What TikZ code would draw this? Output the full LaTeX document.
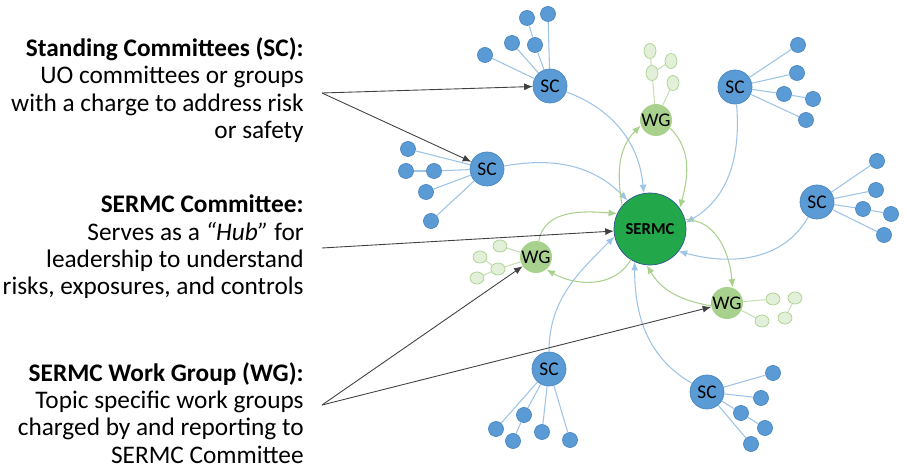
\documentclass[tikz,border=0pt]{standalone}
\usepackage{fontspec}
\setmainfont{Carlito}
\usetikzlibrary{shapes.geometric,arrows.meta}
\definecolor{scblue}{HTML}{5B9BD5}
\definecolor{scedge}{HTML}{4A86C0}
\definecolor{twigblue}{HTML}{9DC3E6}
\definecolor{wggreen}{HTML}{A9D18E}
\definecolor{wglight}{HTML}{E2F0D9}
\definecolor{wgedge}{HTML}{C5E0B4}
\definecolor{hubgreen}{HTML}{22A84A}
\definecolor{hubedge}{HTML}{2F5597}
\definecolor{pointer}{HTML}{404040}

\begin{document}
\begin{tikzpicture}[x=0.02cm, y=-0.02cm, >={Latex[length=1.7mm,width=1.4mm]},
  sc/.style={circle, draw=scedge, fill=scblue, minimum size=6.8mm, inner sep=0pt, font=\fontsize{11}{13}\selectfont},
  leaf/.style={circle, draw=scedge, fill=scblue, minimum size=3mm, inner sep=0pt},
  wg/.style={circle, fill=wggreen, minimum size=6.4mm, inner sep=0pt, font=\fontsize{11}{13}\selectfont},
  wgleaf/.style={ellipse, draw=wggreen, fill=wglight, minimum width=2.8mm, minimum height=2.4mm, inner sep=0pt},
  tallleaf/.style={wgleaf, minimum width=2.4mm, minimum height=3mm},
  hubnode/.style={circle, draw=hubedge, fill=hubgreen, minimum size=14.4mm, inner sep=0pt, font=\fontsize{9.5}{11}\selectfont\bfseries},
  txt/.style={anchor=east, align=right, inner sep=0pt, font=\fontsize{14.4}{15.6}\selectfont},
  twig/.style={draw=twigblue, line width=0.6pt},
  sprig/.style={draw=wgedge, line width=0.6pt},
  feed/.style={->, draw=twigblue, line width=0.6pt},
  loop/.style={->, draw=wggreen, line width=0.6pt},
  note/.style={->, draw=pointer, line width=0.5pt}]
  \useasboundingbox (0,0) rectangle (907,469);

  % texts on the left
  \node[txt] (sctxt) at (304,90) {\textbf{Standing Committees (SC):}\\ UO committees or groups\\ with a charge to address risk\\ or safety};
  \node[txt] (hubtxt) at (304,247) {\textbf{SERMC Committee:}\\ Serves as a \textit{``Hub''} for\\ leadership to understand\\ risks, exposures, and controls};
  \node[txt] (wgtxt) at (304,413) {\textbf{SERMC Work Group (WG):}\\ Topic specific work groups\\ charged by and reporting to\\ SERMC Committee};
  \coordinate (scfrom) at (322,93);
  \coordinate (hubfrom) at (322,248);
  \coordinate (wgfrom) at (322,405);

  % hub, committees and work groups
  \node[hubnode] (hub) at (650,229) {SERMC};
  \node[sc] (sc1) at (550,86) {SC};
  \node[sc] (sc2) at (487,169) {SC};
  \node[sc] (sc3) at (735,87) {SC};
  \node[sc] (sc4) at (817,202) {SC};
  \node[sc] (sc5) at (549,369) {SC};
  \node[sc] (sc6) at (707,392) {SC};
  \node[wg] (wg1) at (656,120) {WG};
  \node[wg] (wg2) at (536,257) {WG};
  \node[wg] (wg3) at (727,303) {WG};

  % members
  \node[leaf] (a1) at (485,55) {};
  \node[leaf] (a2) at (512,43) {};
  \node[leaf] (a3) at (535,45) {};
  \node[leaf] (a4) at (527,18) {};
  \node[leaf] (a5) at (548,14) {};
  \node[leaf] (b1) at (408,149) {};
  \node[leaf] (b2) at (406,171) {};
  \node[leaf] (b3) at (434,171) {};
  \node[leaf] (b4) at (426,192) {};
  \node[leaf] (b5) at (431,221) {};
  \node[leaf] (c1) at (798,45) {};
  \node[leaf] (c2) at (797,73) {};
  \node[leaf] (c3) at (784,94) {};
  \node[leaf] (c4) at (813,99) {};
  \node[leaf] (c5) at (806,120) {};
  \node[leaf] (d1) at (877,161) {};
  \node[leaf] (d2) at (876,190) {};
  \node[leaf] (d3) at (863,209) {};
  \node[leaf] (d4) at (891,214) {};
  \node[leaf] (d5) at (884,235) {};
  \node[leaf] (e1) at (496,429) {};
  \node[leaf] (e2) at (524,415) {};
  \node[leaf] (e3) at (513,441) {};
  \node[leaf] (e4) at (542,432) {};
  \node[leaf] (e5) at (570,440) {};
  \node[leaf] (f1) at (773,373) {};
  \node[leaf] (f2) at (761,398) {};
  \node[leaf] (f3) at (741,413) {};
  \node[leaf] (f4) at (765,428) {};
  \node[leaf] (f5) at (751,444) {};
  \node[tallleaf] (g1) at (650,51) {};
  \node[tallleaf] (g2) at (671,61) {};
  \node[tallleaf] (g3) at (652,73) {};
  \node[tallleaf] (g4) at (673,83) {};
  \node[wgleaf] (h1) at (480,257) {};
  \node[wgleaf] (h2) at (500,246) {};
  \node[wgleaf] (h3) at (498,269) {};
  \node[wgleaf] (h4) at (477,278) {};
  \node[wgleaf] (k1) at (773,299) {};
  \node[wgleaf] (k2) at (795,298) {};
  \node[wgleaf] (k3) at (762,321) {};
  \node[wgleaf] (k4) at (785,318) {};

  \draw[twig] (sc1) -- (a1);
  \draw[twig] (sc1) -- (a2);
  \draw[twig] (sc1) -- (a3);
  \draw[twig] (a3) -- (a4);
  \draw[twig] (sc1) -- (a5);
  \draw[twig] (sc2) -- (b1);
  \draw[twig] (b2) -- (b3);
  \draw[twig] (b3) -- (sc2);
  \draw[twig] (sc2) -- (b4);
  \draw[twig] (sc2) -- (b5);
  \draw[twig] (sc3) -- (c1);
  \draw[twig] (sc3) -- (c2);
  \draw[twig] (sc3) -- (c3);
  \draw[twig] (c3) -- (c4);
  \draw[twig] (sc3) -- (c5);
  \draw[twig] (sc4) -- (d1);
  \draw[twig] (sc4) -- (d2);
  \draw[twig] (sc4) -- (d3);
  \draw[twig] (d3) -- (d4);
  \draw[twig] (sc4) -- (d5);
  \draw[twig] (sc5) -- (e1);
  \draw[twig] (sc5) -- (e2);
  \draw[twig] (e2) -- (e3);
  \draw[twig] (sc5) -- (e4);
  \draw[twig] (sc5) -- (e5);
  \draw[twig] (sc6) -- (f1);
  \draw[twig] (sc6) -- (f2);
  \draw[twig] (sc6) -- (f3);
  \draw[twig] (f3) -- (f4);
  \draw[twig] (sc6) -- (f5);
  \draw[sprig] (g1) -- (g3);
  \draw[sprig] (g2) -- (g3);
  \draw[sprig] (g3) -- (wg1);
  \draw[sprig] (g4) -- (wg1);
  \draw[sprig] (h1) -- (h3);
  \draw[sprig] (h4) -- (h3);
  \draw[sprig] (h2) -- (wg2);
  \draw[sprig] (h3) -- (wg2);
  \draw[sprig] (wg3) -- (k1);
  \draw[sprig] (k2) -- (k4);
  \draw[sprig] (wg3) -- (k3);

  % reporting lines
  \draw[feed] (sc1) to[out=-20, in=95] (hub.100);
  \draw[feed] (sc2) to[out=10, in=135] (hub.128);
  \draw[feed] (sc3) to[out=-85, in=30] (hub.10);
  \draw[feed] (sc4) to[out=-120, in=-15] (hub.-38);
  \draw[feed] (sc5) to[out=90, in=225] (hub.192);
  \draw[feed] (sc6) to[out=150, in=-90] (hub.-115);
  \draw[loop] (hub.140) to[out=100, in=225] (wg1.200);
  \draw[loop] (wg1.-30) to[out=-45, in=75] (hub.35);
  \draw[loop] (wg2.80) to[out=80, in=175] (hub.155);
  \draw[loop] (hub.-122) to[out=-120, in=-30] (wg2.-50);
  \draw[loop] (hub.15) to[out=0, in=95] (wg3.70);
  \draw[loop] (wg3.190) to[out=170, in=-60] (hub.-95);

  % pointers from the texts
  \draw[note] (scfrom) -- (sc1);
  \draw[note] (scfrom) -- (sc2);
  \draw[note] (hubfrom) -- (hub);
  \draw[note] (wgfrom) -- (wg2);
  \draw[note] (wgfrom) -- (wg3);
\end{tikzpicture}
\end{document}
